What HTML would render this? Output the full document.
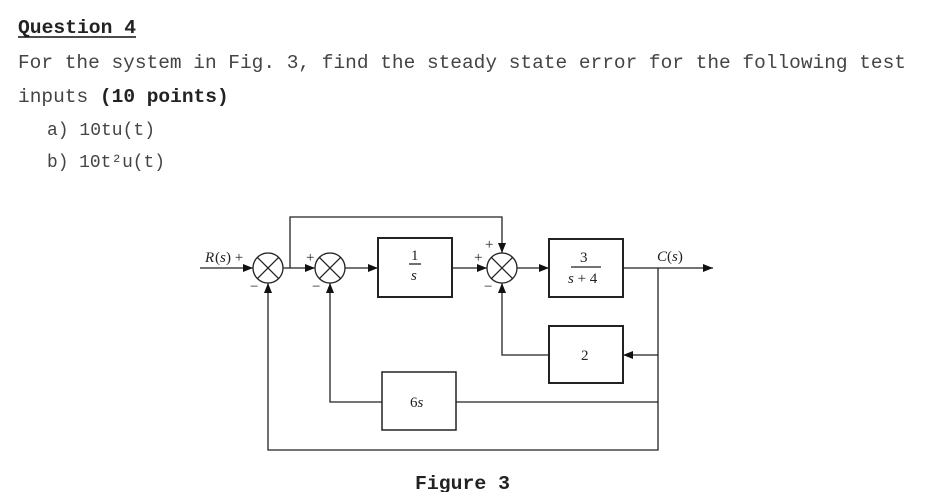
<!DOCTYPE html>
<html><head><meta charset="utf-8"><style>
html,body{margin:0;padding:0;background:#fff;width:925px;height:492px;overflow:hidden}
svg{display:block}
.m{font-family:"Liberation Mono",monospace;fill:#444}
.b{fill:#222}
.s{font-family:"Liberation Serif",serif;fill:#222}
</style></head><body>
<svg width="925" height="492" viewBox="0 0 925 492">
<defs><marker id="a" markerWidth="10" markerHeight="8" refX="10" refY="4" orient="auto" markerUnits="userSpaceOnUse"><path d="M0,0 L10,4 L0,8 z" fill="#111"/></marker></defs>
<text class="m b" x="18" y="33" font-size="19.5" font-weight="bold" textLength="118" lengthAdjust="spacingAndGlyphs">Question 4</text>
<line x1="18" y1="37" x2="136" y2="37" stroke="#111" stroke-width="1.5"/>
<text class="m" x="18" y="68" font-size="19.5" textLength="888" lengthAdjust="spacingAndGlyphs">For the system in Fig. 3, find the steady state error for the following test</text>
<text class="m" x="18" y="102" font-size="19.5">inputs <tspan font-weight="bold" fill="#222">(10 points)</tspan></text>
<text class="m" x="47" y="135" font-size="18" textLength="108" lengthAdjust="spacingAndGlyphs">a) 10tu(t)</text>
<text class="m" x="47" y="167" font-size="18" textLength="118" lengthAdjust="spacingAndGlyphs">b) 10t²u(t)</text>
<text class="m b" x="415" y="489" font-size="19.5" font-weight="bold" textLength="95" lengthAdjust="spacingAndGlyphs">Figure 3</text>

<g stroke="#222" stroke-width="1.3" fill="none">
<line x1="200" y1="268" x2="253" y2="268" marker-end="url(#a)"/>
<line x1="283" y1="268" x2="315" y2="268" marker-end="url(#a)"/>
<polyline points="290,268 290,217 502,217 502,253" marker-end="url(#a)"/>
<line x1="345" y1="268" x2="378" y2="268" marker-end="url(#a)"/>
<line x1="452" y1="268" x2="487" y2="268" marker-end="url(#a)"/>
<line x1="517" y1="268" x2="549" y2="268" marker-end="url(#a)"/>
<line x1="623" y1="268" x2="713" y2="268" marker-end="url(#a)"/>
<polyline points="658,268 658,450 268,450 268,283" marker-end="url(#a)"/>
<line x1="658" y1="355" x2="623" y2="355" marker-end="url(#a)"/>
<polyline points="549,355 502,355 502,283" marker-end="url(#a)"/>
<polyline points="658,402 456,402"/>
<polyline points="382,402 330,402 330,283" marker-end="url(#a)"/>
<circle cx="268" cy="268" r="15"/><path d="M257.4,257.4 L278.6,278.6 M278.6,257.4 L257.4,278.6"/>
<circle cx="330" cy="268" r="15"/><path d="M319.4,257.4 L340.6,278.6 M340.6,257.4 L319.4,278.6"/>
<circle cx="502" cy="268" r="15"/><path d="M491.4,257.4 L512.6,278.6 M512.6,257.4 L491.4,278.6"/>
<rect x="378" y="238" width="74" height="59" stroke-width="2"/>
<rect x="549" y="239" width="74" height="58" stroke-width="2"/>
<rect x="549" y="326" width="74" height="57" stroke-width="2"/>
<rect x="382" y="372" width="74" height="58" stroke-width="1.5"/>
<line x1="409" y1="264" x2="421" y2="264"/>
<line x1="571" y1="267" x2="601" y2="267"/>
</g>
<g class="s" font-size="15">
<text x="205" y="262" font-style="italic">R</text><text x="215" y="262">(</text><text x="220" y="262" font-style="italic">s</text><text x="226" y="262">) +</text>
<text x="250" y="291">−</text>
<text x="306" y="262">+</text><text x="312" y="291">−</text>
<text x="474" y="262">+</text><text x="485" y="249">+</text><text x="484" y="291">−</text>
<text x="411" y="260">1</text><text x="411" y="280" font-style="italic">s</text>
<text x="580" y="262">3</text><text x="568" y="283"><tspan font-style="italic">s</tspan> + 4</text>
<text x="581" y="360">2</text>
<text x="410" y="407"><tspan>6</tspan><tspan font-style="italic">s</tspan></text>
<text x="657" y="261"><tspan font-style="italic">C</tspan>(<tspan font-style="italic">s</tspan>)</text>
</g>
</svg>
</body></html>
